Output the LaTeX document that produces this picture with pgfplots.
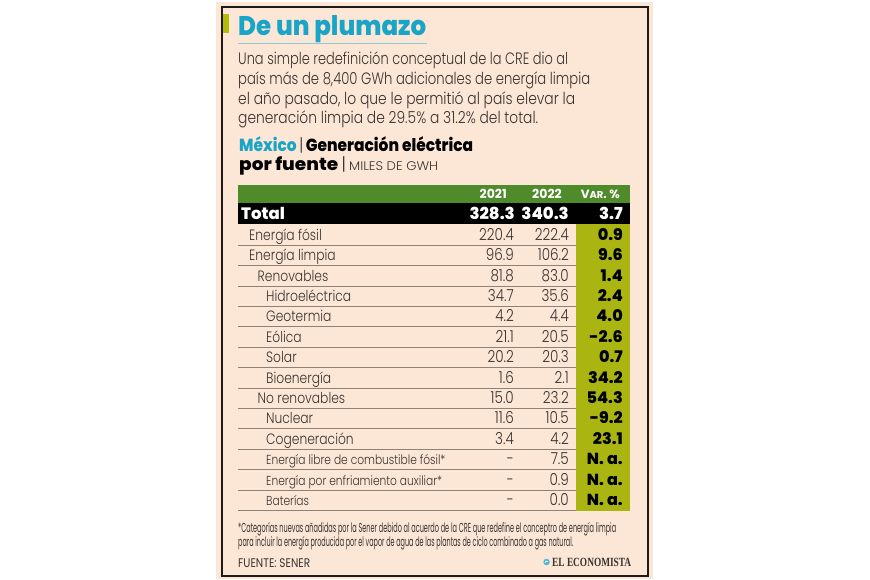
\documentclass[border=0pt]{standalone}
\usepackage{pgfplots}
\pgfplotsset{compat=1.18}
\usepackage{pgfplotstable}
\usepackage{graphicx}
\usepackage{fontspec}
\setmainfont{Poppins}
\newfontfamily\bodyf{Poppins}[FakeStretch=0.82, UprightFont=* Light]
\newfontfamily\introf{Poppins}[UprightFont=* Light]
\newfontfamily\heavyf{Poppins}[UprightFont=* ExtraBold]
\newfontfamily\condf{Poppins}[FakeStretch=0.62]
\newfontfamily\logof{Liberation Serif}
\definecolor{beige}{HTML}{FCE7D6}
\definecolor{frame}{HTML}{1E1A18}
\definecolor{teal}{HTML}{1AA5C8}
\definecolor{lightteal}{HTML}{8CCAD6}
\definecolor{olive}{HTML}{AAB512}
\definecolor{olivebar}{HTML}{B3BC0A}
\definecolor{hgreen}{HTML}{4F8A2B}
\definecolor{txt}{HTML}{3A3230}
\definecolor{sep}{HTML}{8E8176}

\pgfplotstableread[col sep=comma]{
row,ind,label
0,249,Energía fósil
1,249,Energía limpia
2,257.5,Renovables
3,266,Hidroeléctrica
4,266,Geotermia
5,266,Eólica
6,266,Solar
7,266,Bioenergía
8,257.5,No renovables
9,266,Nuclear
10,266,Cogeneración
}\labelsA
\pgfplotstableread[col sep=comma]{
row,ind,label
11,266,Energía libre de combustible fósil*
12,266,Energía por enfriamiento auxiliar*
13,266,Baterías
}\labelsB
\pgfplotstableread[col sep=comma]{
row,a,b,v
0,220.4,222.4,0.9
1,96.9,106.2,9.6
2,81.8,83.0,1.4
3,34.7,35.6,2.4
4,4.2,4.4,4.0
5,21.1,20.5,-2.6
6,20.2,20.3,0.7
7,1.6,2.1,34.2
8,15.0,23.2,54.3
9,11.6,10.5,-9.2
10,3.4,4.2,23.1
11,-,7.5,N. a.
12,-,0.9,N. a.
13,-,0.0,N. a.
}\values

\begin{document}
\begin{tikzpicture}
\begin{axis}[
  width=870pt, height=580pt, scale only axis,
  xmin=0, xmax=870, ymin=0, ymax=580, y dir=reverse,
  hide axis, clip=false,
]
% background
\fill[white] (0,0) rectangle (870,580);
\fill[beige] (215.5,2) rectangle (653,579);
\draw[frame, line width=2pt] (222,7) rectangle (647.5,575.5);
\fill[olivebar] (222.5,14) rectangle (228.5,33.5);

% title
\node[anchor=base west, inner sep=0pt, text=teal] at (238,35.5)
  {\resizebox{188pt}{\height}{\heavyf\fontsize{27}{27}\selectfont De un plumazo}};
\draw[lightteal, line width=1pt] (238,43.5) -- (427,43.5);

% intro text
\begin{scope}[every node/.style={anchor=base west, inner sep=0pt, text=txt}]
\node at (238,65) {\resizebox{330pt}{\height}{\introf\fontsize{16.5}{20}\selectfont Una simple redefinición conceptual de la CRE dio al}};
\node at (238,85) {\resizebox{352pt}{\height}{\introf\fontsize{16.5}{20}\selectfont país más de 8,400 GWh adicionales de energía limpia}};
\node at (238,104.5) {\resizebox{337pt}{\height}{\introf\fontsize{16.5}{20}\selectfont el año pasado, lo que le permitió al país elevar la}};
\node at (238,124) {\resizebox{300pt}{\height}{\introf\fontsize{16.5}{20}\selectfont generación limpia de 29.5\% a 31.2\% del total.}};

% subtitle
\node at (239,152) {\resizebox{234pt}{\height}{\fontsize{17.5}{20}\selectfont\textcolor{teal}{\heavyf México}\,\textcolor{txt}{\introf|}\,\textcolor{black}{\heavyf Generación eléctrica}}};
\node at (239,171) {\resizebox{199pt}{\height}{\fontsize{17.5}{20}\selectfont\textcolor{black}{\heavyf por fuente}\,\textcolor{txt}{\introf|}\,{\introf\fontsize{12.5}{14}\selectfont MILES DE GWH}}};
\end{scope}

% table header
\fill[hgreen] (238,185) rectangle (630,203.5);
\fill[black] (238,203.5) rectangle (630,224);
\fill[olive] (576,224) rectangle (630,511);
\pgfplotsinvokeforeach{0,...,13}{
  \draw[sep, line width=0.8pt] (238,{245.2+20.4*#1}) -- (576,{245.2+20.4*#1});
}

\begin{scope}[every node/.style={inner sep=0pt, text=white}]
\node[anchor=base east] at (507,199) {\fontsize{12.5}{12}\selectfont\bfseries 2021};
\node[anchor=base east] at (562,199) {\fontsize{12.5}{12}\selectfont\bfseries 2022};
\node[anchor=base east] at (620,199) {\fontsize{12}{12}\selectfont\bfseries V{\fontsize{10}{12}\selectfont AR}. \%};
\node[anchor=base west] at (241,219.5) {\heavyf\fontsize{16.5}{18}\selectfont Total};
\end{scope}

% Total row values
\addplot[draw=none, mark=none, nodes near coords, point meta=explicit symbolic,
  every node near coord/.append style={anchor=base east, inner sep=0pt, text=white, font=\heavyf\fontsize{16.5}{18}\selectfont}]
  coordinates {(515,219.5) [328.3] (569,219.5) [340.3] (623,219.5) [3.7]};

% labels
\addplot[draw=none, mark=none, nodes near coords, point meta=explicit symbolic,
  every node near coord/.append style={anchor=base west, inner sep=0pt, text=txt, font=\bodyf\fontsize{15}{16}\selectfont}]
  table[x=ind, y expr=240.3+20.4*\thisrow{row}, meta=label] {\labelsA};
\addplot[draw=none, mark=none, nodes near coords, point meta=explicit symbolic,
  every node near coord/.append style={anchor=base west, inner sep=0pt, text=txt, font=\bodyf\fontsize{13}{14}\selectfont}]
  table[x=ind, y expr=240.3+20.4*\thisrow{row}, meta=label] {\labelsB};

% values
\addplot[draw=none, mark=none, nodes near coords, point meta=explicit symbolic,
  every node near coord/.append style={anchor=base east, inner sep=0pt, text=txt, font=\bodyf\fontsize{16.5}{18}\selectfont}]
  table[x expr=514, y expr=240.3+20.4*\thisrow{row}, meta=a] {\values};
\addplot[draw=none, mark=none, nodes near coords, point meta=explicit symbolic,
  every node near coord/.append style={anchor=base east, inner sep=0pt, text=txt, font=\bodyf\fontsize{16.5}{18}\selectfont}]
  table[x expr=569, y expr=240.3+20.4*\thisrow{row}, meta=b] {\values};
\addplot[draw=none, mark=none, nodes near coords, point meta=explicit symbolic,
  every node near coord/.append style={anchor=base east, inner sep=0pt, text=black, font=\heavyf\fontsize{16}{18}\selectfont}]
  table[x expr=623, y expr=240.3+20.4*\thisrow{row}, meta=v] {\values};

% footnote
\begin{scope}[every node/.style={anchor=base west, inner sep=0pt, text=txt}]
\node at (238,532) {\resizebox{378pt}{\height}{\condf\fontsize{13}{13}\selectfont *Categorías nuevas añadidas por la Sener debido al acuerdo de la CRE que redefine el conceptro de energía limpia}};
\node at (238,546) {\resizebox{335pt}{\height}{\condf\fontsize{13}{13}\selectfont para incluir la energía producida por el vapor de agua de las plantas de ciclo combinado a gas natural.}};
\node at (238,567) {\resizebox{72pt}{\height}{\fontsize{12.5}{14}\selectfont FUENTE: SENER}};
\node at (552,566) {\resizebox{79pt}{\height}{\logof\fontsize{12.5}{14}\selectfont\bfseries EL ECONOMISTA}};
\end{scope}
\fill[teal!80] (546.5,562) circle (3.2pt);
\draw[white, line width=0.6pt] (545,563) arc (200:20:1.6pt);
\end{axis}
\end{tikzpicture}
\end{document}
